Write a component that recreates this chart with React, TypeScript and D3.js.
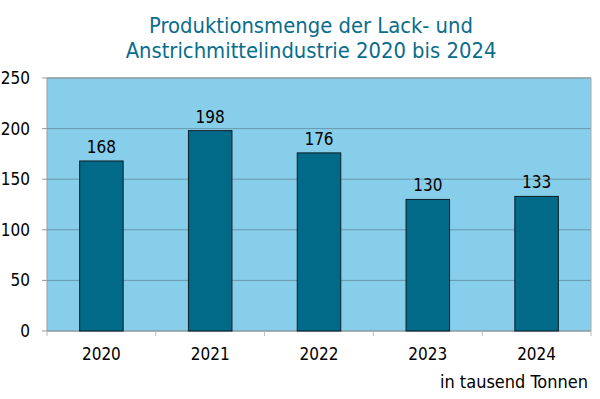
import React from "react";
import * as d3 from "d3";

const categories = ["2020", "2021", "2022", "2023", "2024"];
const values = [168, 198, 176, 130, 133];
const yTicks = [0, 50, 100, 150, 200, 250];
const titleLines = ["Produktionsmenge der Lack- und", "Anstrichmittelindustrie 2020 bis 2024"];
const unitLabel = "in tausend Tonnen";

const W = 600, H = 399;
const left = 47, right = 591, top = 78, bottom = 331;
const FONT = "'DejaVu Sans Condensed', 'DejaVu Sans', sans-serif";

export default function App() {
  const x = d3.scaleBand<string>().domain(categories).range([left, right]).paddingInner(0).paddingOuter(0);
  const y = d3.scaleLinear().domain([0, 250]).range([bottom, top]);
  const barW = x.bandwidth() * 0.4;
  const boundaries = [...categories.map((c) => x(c) as number), right];
  return (
    <svg width={W} height={H} style={{ position: "absolute", left: 0, top: 0, background: "#fff" }} fontFamily={FONT}>
      {titleLines.map((t, i) => (
        <text key={i} x={311} y={33 + i * 25} textAnchor="middle" fontSize={21.8} fill="#0a6d8c">{t}</text>
      ))}
      <rect x={left} y={top} width={right - left} height={bottom - top} fill="#87ceea" />
      {yTicks.map((t) => (
        <g key={t}>
          <line x1={left} x2={right} y1={y(t)} y2={y(t)} stroke="#6a98ab" strokeWidth={1} />
          <line x1={left - 5} x2={left} y1={y(t)} y2={y(t)} stroke="#999" strokeWidth={1} />
          <text x={30} y={y(t)} dy="0.35em" textAnchor="end" fontSize={17} fill="#000">{t}</text>
        </g>
      ))}
      <line x1={left} x2={left} y1={top} y2={bottom} stroke="#999" />
      <line x1={right} x2={right} y1={top} y2={bottom} stroke="#aaa" />
      <line x1={left} x2={right} y1={top} y2={top} stroke="#999" />
      <line x1={left} x2={right} y1={bottom} y2={bottom} stroke="#999" />
      {boundaries.map((b, i) => (
        <line key={i} x1={b} x2={b} y1={bottom} y2={bottom + 5} stroke="#bbb" />
      ))}
      {categories.map((c, i) => {
        const cx = (x(c) as number) + x.bandwidth() / 2;
        return (
          <g key={c}>
            <rect x={cx - barW / 2} y={y(values[i])} width={barW} height={bottom - y(values[i])} fill="#006a88" stroke="#0c1c22" strokeWidth={1} />
            <text x={cx} y={y(values[i]) - 8} textAnchor="middle" fontSize={17} fill="#000">{values[i]}</text>
            <text x={cx} y={360} textAnchor="middle" fontSize={17} fill="#000">{c}</text>
          </g>
        );
      })}
      <text x={588} y={388} textAnchor="end" fontSize={18} fill="#000">{unitLabel}</text>
    </svg>
  );
}
